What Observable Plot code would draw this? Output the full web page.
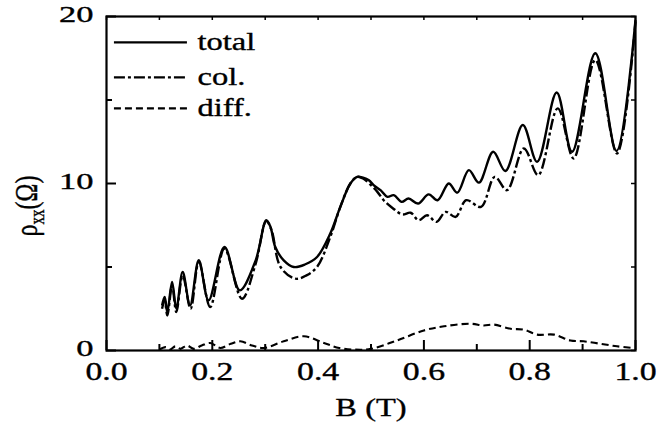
<!DOCTYPE html>
<html>
<head>
<meta charset="utf-8">
<script src="https://cdn.jsdelivr.net/npm/d3@7"></script>
<script src="https://cdn.jsdelivr.net/npm/@observablehq/plot@0.6"></script>
<style>
  html, body { margin: 0; padding: 0; background: #fff; }
  #chart { width: 657px; height: 430px; }
</style>
</head>
<body>
<div id="chart"></div>
<script>
// ---- data ----
const totalB   = [0.105,0.110,0.115,0.124,0.132,0.144,0.158,0.1745,0.193,0.223,0.252,0.282,0.302,0.310,0.319,0.335,0.354,0.375,0.398,0.423,0.442,0.461,0.474,0.485,0.496,0.505,0.518,0.531,0.543,0.558,0.571,0.589,0.609,0.626,0.647,0.663,0.685,0.704,0.731,0.754,0.787,0.814,0.851,0.880,0.924,0.964,1.000];
const totalRho = [2.7,3.2,2.3,4.1,2.5,4.7,2.7,5.4,3.0,6.2,3.6,5.4,7.8,7.4,6.2,5.4,5.0,5.15,5.6,7.0,8.6,10.0,10.4,10.35,10.2,9.9,9.6,9.2,9.3,8.9,9.1,8.8,9.35,9.0,10.0,9.45,10.8,10.05,11.9,10.75,13.5,11.3,15.45,11.9,17.8,11.95,19.8];

const colB   = [0.105,0.110,0.115,0.124,0.132,0.144,0.159,0.1745,0.196,0.223,0.256,0.282,0.302,0.312,0.329,0.357,0.378,0.398,0.423,0.442,0.461,0.474,0.485,0.500,0.512,0.524,0.540,0.559,0.575,0.590,0.606,0.624,0.641,0.660,0.680,0.708,0.734,0.757,0.789,0.816,0.853,0.883,0.924,0.965,1.000];
const colRho = [2.5,3.0,2.1,3.9,2.3,4.5,2.5,5.3,2.6,6.1,3.1,5.2,7.75,7.2,5.0,4.3,4.5,5.0,6.8,8.6,10.0,10.4,10.3,9.9,9.5,9.0,8.55,8.15,8.25,7.8,8.1,7.7,8.3,8.0,9.0,8.6,10.4,9.6,12.1,10.5,14.5,11.5,17.4,11.8,19.7];

const diffB   = [0.100,0.112,0.120,0.130,0.140,0.152,0.165,0.180,0.196,0.215,0.235,0.253,0.275,0.297,0.335,0.373,0.411,0.440,0.470,0.500,0.549,0.600,0.638,0.688,0.713,0.732,0.764,0.789,0.814,0.846,0.877,0.902,0.934,0.965,0.995];
const diffRho = [0.05,0.2,0.05,0.25,0.1,0.3,0.1,0.3,0.45,0.15,0.4,0.55,0.3,0.15,0.55,0.85,0.45,0.15,0.05,0.1,0.6,1.2,1.45,1.6,1.5,1.55,1.3,1.25,0.95,0.95,0.6,0.55,0.4,0.25,0.15];

const xMajor = [0, 0.2, 0.4, 0.6, 0.8, 1.0];
const xMinor = [0.1, 0.3, 0.5, 0.7, 0.9];
const yMajor = [0, 10, 20];
const yMinor = [5, 15];

const seriesNames  = ["total", "col.", "diff."];
const seriesDash   = [null, "11,3,3,3", "7,4"];
const legendRho    = [18.45, 16.35, 14.5];

// ---- build tables ----
const toRows = (xs, ys) => xs.map((b, i) => ({B: b, rho: ys[i]}));
const total = toRows(totalB, totalRho);
const col   = toRows(colB, colRho);
const diff  = toRows(diffB, diffRho);
const legend = seriesNames.map((name, i) => ({name, dash: seriesDash[i], rho: legendRho[i]}));

const W = 657, H = 430;
const mL = 106, mR = 22, mT = 16, mB = 80;
const innerW = W - mL - mR, innerH = H - mT - mB;
const font = "'Liberation Serif', 'Times New Roman', serif";

const lineOpts = {x: "B", y: "rho", stroke: "black", strokeWidth: 2.4, curve: "catmull-rom", strokeLinecap: "butt"};

const plot = Plot.plot({
  width: W, height: H,
  marginLeft: mL, marginRight: mR, marginTop: mT, marginBottom: mB,
  style: {fontFamily: font, fontSize: "23px", background: "white", color: "black"},
  x: {domain: [0, 1], ticks: xMajor},
  y: {domain: [0, 20], ticks: yMajor},
  marks: [
    // curves
    Plot.line(total, {...lineOpts}),
    Plot.line(col,   {...lineOpts, strokeDasharray: seriesDash[1]}),
    Plot.line(diff,  {...lineOpts, strokeWidth: 2.1, strokeDasharray: seriesDash[2]}),
    // inward ticks
    Plot.tickX(xMajor, {x: d => d, insetTop: innerH - 10, strokeWidth: 2}),
    Plot.tickX(xMinor, {x: d => d, insetTop: innerH - 6, strokeWidth: 2}),
    Plot.tickX(xMajor.concat(xMinor), {x: d => d, insetBottom: innerH - 4, strokeWidth: 1.5}),
    Plot.tickY(yMajor, {y: d => d, insetRight: innerW - 10, strokeWidth: 2}),
    Plot.tickY(yMinor, {y: d => d, insetRight: innerW - 6, strokeWidth: 2}),
    Plot.tickY(yMajor.concat(yMinor), {y: d => d, insetLeft: innerW - 4, strokeWidth: 1.5}),
    Plot.frame({stroke: "black", strokeWidth: 2.2}),
    // tick labels
    Plot.axisX({ticks: xMajor, tickSize: 0, tickPadding: 12, tickFormat: d3.format(".1f"), label: null, fontSize: 25}),
    Plot.axisY({ticks: yMajor, tickSize: 0, tickPadding: 13, dy: -2, tickFormat: d3.format("d"), label: null, fontSize: 23}),
    // x-axis label
    Plot.text(["B (T)"], {frameAnchor: "bottom", dy: 65, text: d => d, fontSize: 25, fill: "black"}),
    // legend
    Plot.ruleY(legend, {y: "rho", x1: 0.015, x2: 0.153, stroke: "black", strokeWidth: 2.2}),
    Plot.text(legend, {y: "rho", x: 0.172, text: "name", textAnchor: "start", fontSize: 25, fill: "black"})
  ]
});

document.getElementById("chart").appendChild(plot);

// per-series dash for legend rules
const svg = d3.select(plot);
svg.selectAll("g[aria-label='rule'] line").each(function(_, i) {
  if (seriesDash[i]) d3.select(this).attr("stroke-dasharray", seriesDash[i]);
});

// widen the serif glyphs horizontally, like the reference (scale about each text's anchor)
function stretch(sel, k) {
  sel.each(function() {
    const t = this.getAttribute("transform");
    const x = this.getAttribute("x"), y = this.getAttribute("y");
    if (t) {
      this.setAttribute("transform", t + ` scale(${k},1)`);
    } else {
      this.removeAttribute("x"); this.removeAttribute("y");
      this.setAttribute("transform", `translate(${x || 0},${y || 0}) scale(${k},1)`);
    }
    this.setAttribute("stroke", "black");
    this.setAttribute("stroke-width", "0.35");
  });
}
stretch(svg.selectAll("g[aria-label='x-axis tick label'] text"), 1.35);
stretch(svg.selectAll("g[aria-label='y-axis tick label'] text"), 1.5);
stretch(svg.selectAll("g[aria-label='text'] text"), 1.3);

// y-axis label with subscript
const yl = svg.append("text")
  .attr("transform", "translate(37,206) rotate(-90) scale(1,1.35)")
  .attr("text-anchor", "middle")
  .attr("font-family", font)
  .attr("font-size", 24)
  .attr("fill", "black")
  .attr("stroke", "black")
  .attr("stroke-width", 0.3);
yl.append("tspan").text("ρ");
yl.append("tspan").attr("font-size", 15).attr("dy", 5).text("xx");
yl.append("tspan").attr("dy", -5).text("(Ω)");
</script>
</body>
</html>
